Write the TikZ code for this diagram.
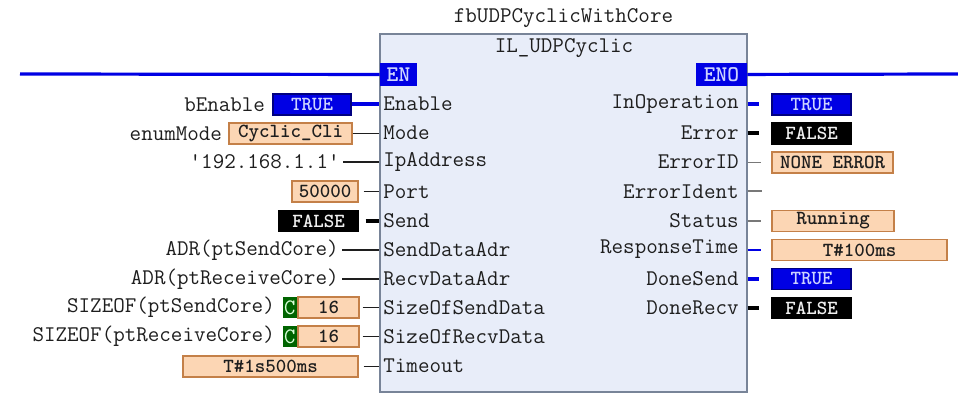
\documentclass[tikz,border=0pt]{standalone}
\usetikzlibrary{positioning}

\definecolor{fbfill}{RGB}{232,237,249}
\definecolor{fbline}{RGB}{120,132,152}
\definecolor{txt}{RGB}{30,30,30}
\definecolor{plcblue}{RGB}{0,0,228}
\definecolor{bluetxt}{RGB}{205,212,255}
\definecolor{valfill}{RGB}{252,214,180}
\definecolor{valline}{RGB}{196,128,72}
\definecolor{cgreen}{RGB}{0,100,0}
\definecolor{wiregray}{RGB}{120,120,120}

\begin{document}
\begin{tikzpicture}[x=0.5pt, y=-0.5pt,
   font = \ttfamily\fontsize{11.2}{13}\selectfont, text=txt,
   node distance = 0pt,
    block/.style = {draw=fbline, line width=0.7pt, fill=fbfill,
                    minimum width=183.5pt, minimum height=179pt, inner sep=0pt},
      lbl/.style = {inner sep=0pt},
     pinl/.style = {inner sep=0pt, anchor=west},
     pinr/.style = {inner sep=0pt, anchor=east},
    enbox/.style = {fill=plcblue, text=bluetxt, font=\ttfamily\fontsize{11.2}{13}\selectfont\bfseries,
                    minimum height=11.5pt, inner sep=0pt},
   valbox/.style = {minimum height=10.5pt, inner sep=0pt, line width=0.6pt,
                    font=\ttfamily\fontsize{10}{12}\selectfont\bfseries},
      val/.style = {valbox, draw=valline, fill=valfill},
      tru/.style = {valbox, draw=blue!50!black, fill=plcblue, text=bluetxt, minimum width=39.5pt},
      fls/.style = {valbox, draw=black, fill=black, text=white!88!gray, minimum width=39.5pt},
      cst/.style = {valbox, fill=cgreen, text=white!85!green, minimum width=7pt,
                    font=\ttfamily\fontsize{11}{12}\selectfont},
    wthin/.style = {line width=0.7pt, draw=txt},
    wbool/.style = {line width=2pt},
   enwire/.style = {line width=1.6pt, draw=plcblue}
                    ]
  \useasboundingbox (0,0) rectangle (958,394);

  % function block
  \node (fb) [block] at (563.5,213) {};
  \node (fbName) [lbl] at (563.5,18) {fbUDPCyclicWithCore};
  \node (fbType) [lbl] at (564,48) {IL\_UDPCyclic};
  \node (en)  [enbox, minimum width=18.5pt] at (398.5,74.5) {EN};
  \node (eno) [enbox, minimum width=25.5pt] at (721.5,74.5) {ENO};
  \coordinate (enL) at (20,74);
  \coordinate (enoR) at (958,74);
  \draw [enwire] (enL) -- (en);
  \draw [enwire] (eno) -- (enoR);

  \foreach \n [count=\i from 0] in {Enable, Mode, IpAddress, Port, Send, SendDataAdr,
                                    RecvDataAdr, SizeOfSendData, SizeOfRecvData, Timeout}
    \node (in\i) [pinl] at (383,{104+29.1*\i}) {\n};
  \foreach \n [count=\i from 0] in {InOperation, Error, ErrorID, ErrorIdent, Status,
                                    ResponseTime, DoneSend, DoneRecv}
    \node (out\i) [pinr] at (739,{104+29.1*\i}) {\n};

  % inputs
  \node (tEnable) [tru, minimum width=39pt] at (312,104.5) {TRUE};
  \node (bEnable) [lbl, left=3.5pt of tEnable] {bEnable};
  \node (vMode) [val, minimum width=61.5pt] at (290.5,133.5) {Cyclic\_Cli};
  \node (enumMode) [lbl, left=3pt of vMode] {enumMode};
  \node (ipAdr) [lbl, anchor=east] at (340,162) {\textquotesingle 192.168.1.1\textquotesingle};
  \node (vPort) [val, minimum width=33pt] at (325,191.5) {50000};
  \node (fSend) [fls] at (318.5,221) {FALSE};
  \node (adrSend) [lbl, anchor=east] at (339,250) {ADR(ptSendCore)};
  \node (adrRecv) [lbl, anchor=east] at (339,279) {ADR(ptReceiveCore)};
  \node (vSizeS) [val, minimum width=30.5pt] at (328.5,307.5) {16};
  \node (cSizeS) [cst, left=of vSizeS] {C};
  \node (sizeS) [lbl, left=3.5pt of cSizeS] {SIZEOF(ptSendCore)};
  \node (vSizeR) [val, minimum width=30.5pt] at (328.5,336.5) {16};
  \node (cSizeR) [cst, left=of vSizeR] {C};
  \node (sizeR) [lbl, left=3.5pt of cSizeR] {SIZEOF(ptReceiveCore)};
  \node (vTime) [val, minimum width=87.5pt] at (270.5,366.5) {T\#1s500ms};

  \draw [wbool, plcblue] (tEnable) -- (tEnable -| fb.west);
  \draw [wthin] (vMode) -- (vMode -| fb.west);
  \draw [wthin, shorten <=1.5pt] (ipAdr) -- (ipAdr -| fb.west);
  \draw [wthin, shorten <=2.5pt] (vPort) -- (vPort -| fb.west);
  \draw [wbool, shorten <=3.5pt] (fSend) -- (fSend -| fb.west);
  \draw [wthin, shorten <=1.5pt] (adrSend) -- (adrSend -| fb.west);
  \draw [wthin, shorten <=1.5pt] (adrRecv) -- (adrRecv -| fb.west);
  \draw [wthin, shorten <=1.5pt] (vSizeS) -- (vSizeS -| fb.west);
  \draw [wthin, shorten <=1.5pt] (vSizeR) -- (vSizeR -| fb.west);
  \draw [wthin, shorten <=2.5pt] (vTime) -- (vTime -| fb.west);

  % outputs
  \node (oInOp)  [tru] at (811.5,104.5) {TRUE};
  \node (oErr)   [fls] at (811.5,133.5) {FALSE};
  \node (oErrID) [val, minimum width=60.5pt] at (832.5,162.5) {NONE ERROR};
  \coordinate (oIdent) at (762,191);
  \node (oStat)  [val, minimum width=61pt] at (833,221) {Running};
  \node (oResp)  [val, minimum width=87.5pt] at (859.5,250) {T\#100ms};
  \node (oDoneS) [tru] at (811.5,279) {TRUE};
  \node (oDoneR) [fls] at (811.5,308) {FALSE};

  \draw [wbool, plcblue, shorten >=6pt] (oInOp -| fb.east) -- (oInOp);
  \draw [wbool, shorten >=6pt] (oErr -| fb.east) -- (oErr);
  \draw [wthin, wiregray, shorten >=5pt] (oErrID -| fb.east) -- (oErrID);
  \draw [wthin, wiregray] (oIdent -| fb.east) -- (oIdent);
  \draw [wthin, wiregray, shorten >=5pt] (oStat -| fb.east) -- (oStat.west);
  \draw [wthin, plcblue, shorten >=5pt] (oResp -| fb.east) -- (oResp.west);
  \draw [wbool, plcblue, shorten >=6pt] (oDoneS -| fb.east) -- (oDoneS);
  \draw [wbool, shorten >=6pt] (oDoneR -| fb.east) -- (oDoneR);
\end{tikzpicture}
\end{document}
